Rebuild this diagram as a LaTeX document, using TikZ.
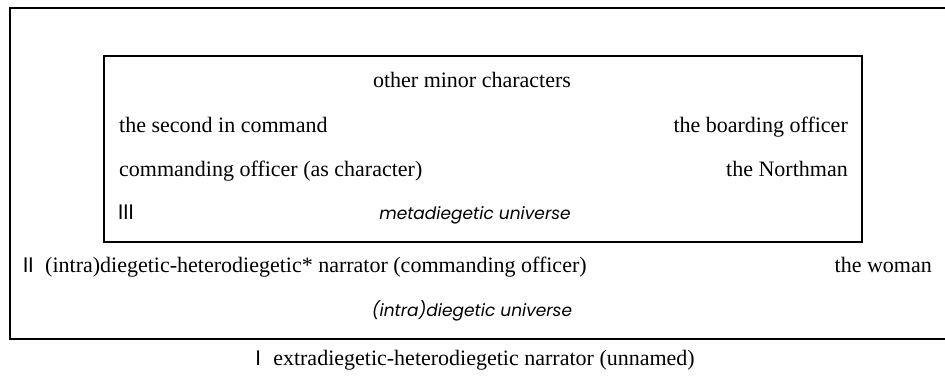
\documentclass[tikz,border=0pt]{standalone}
\usepackage{fontspec}
\setmainfont{Liberation Serif}
\newfontfamily\levelfont{Poppins}
\usetikzlibrary{positioning}

\begin{document}
\begin{tikzpicture}[
  x=1pt,y=1pt,
  frame/.style={draw,line width=2pt},
  txt/.style={font=\fontsize{22}{26}\selectfont,inner sep=0pt,text height=1.6ex,text depth=.4ex},
  lvl/.style={font=\levelfont\fontsize{21}{24}\selectfont,inner sep=0pt,text height=1.5ex,text depth=.3ex},
  uni/.style={lvl,font=\levelfont\itshape\fontsize{17}{20}\selectfont}
]
  \useasboundingbox (0,0) rectangle (945,-380);
  % universes
  \draw[frame] (10,-8) rectangle (960,-339);
  \draw[frame] (104,-56) rectangle (862,-242);
  % metadiegetic level
  \node[txt] (minor) at (472,-85) {other minor characters};
  \node[txt,anchor=west] (second) at (119,-130) {the second in command};
  \node[txt,anchor=east] (boarding) at (848,-130) {the boarding officer};
  \node[txt,anchor=west] (cocharacter) at (119,-174) {commanding officer (as character)};
  \node[txt,anchor=east] (northman) at (848,-174) {the Northman};
  \node[lvl,anchor=west] (lvlIII) at (118,-217) {III};
  \node[uni] (meta) at (475,-217) {metadiegetic universe};
  % intradiegetic level
  \node[lvl,anchor=west] (lvlII) at (23,-270) {II};
  \node[txt,anchor=west] (conarrator) at (45,-270) {(intra)diegetic-heterodiegetic* narrator (commanding officer)};
  \node[txt,anchor=east] (woman) at (932,-270) {the woman};
  \node[uni] (intra) at (472,-314) {(intra)diegetic universe};
  % extradiegetic level
  \node[txt] (extranarrator) at (484,-363) {extradiegetic-heterodiegetic narrator (unnamed)};
  \node[lvl,left=12pt of extranarrator] (lvlI) {I};
\end{tikzpicture}
\end{document}
